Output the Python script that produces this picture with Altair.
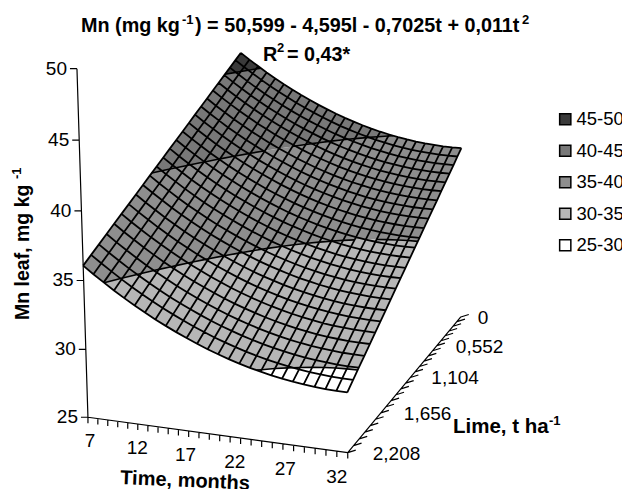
import altair as alt
import numpy as np

# ---- values ----
times = list(range(7, 33))
lime_levels = [0, 0.092, 0.184, 0.276, 0.368, 0.46, 0.552, 0.644, 0.736, 0.828, 0.92, 1.012, 1.104,
               1.196, 1.288, 1.38, 1.472, 1.564, 1.656, 1.748, 1.84, 1.932, 2.024, 2.116, 2.208]
mn_at_lime0 = [46.22, 45.68, 45.17, 44.67, 44.20, 43.75, 43.33, 42.92, 42.54, 42.18, 41.84, 41.52, 41.22,
               40.95, 40.70, 40.47, 40.26, 40.08, 39.91, 39.77, 39.65, 39.55, 39.48, 39.42, 39.39, 39.38]
mn_drop_by_lime = [0, 0.42, 0.85, 1.27, 1.69, 2.11, 2.54, 2.96, 3.38, 3.80, 4.23, 4.65, 5.07,
                   5.50, 5.92, 6.34, 6.76, 7.19, 7.61, 8.03, 8.45, 8.88, 9.30, 9.72, 10.15]
band_labels = ["45-50", "40-45", "35-40", "30-35", "25-30"]
band_low = [45, 40, 35, 30, 25]
band_colors = ["#3a3a3a", "#787878", "#8e8e8e", "#b6b6b6", "#ffffff"]
z_ticks = [25, 30, 35, 40, 45, 50]
time_ticks = [7, 12, 17, 22, 27, 32]
lime_ticks = [0, 0.552, 1.104, 1.656, 2.208]
lime_tick_labels = ["0", "0,552", "1,104", "1,656", "2,208"]

# ---- camera: calibrated on the picture's axis ends and surface corners ----
anchors = [((7, 2.208, 25), (87, 417)), ((32, 2.208, 25), (345, 453)), ((32, 0, 25), (462, 316)),
           ((7, 2.208, 50), (77, 67)), ((7, 2.208, 45), (79, 141)), ((7, 2.208, 35), (83, 282)),
           ((7, 2.208, 36.07), (86, 265)), ((32, 2.208, 29.24), (349, 392)),
           ((32, 0, 39.38), (461, 149)), ((7, 0, 46.22), (240, 53))]


def world(t, l, z):
    return np.array([(t - 7) / 25, l / 2.208, (z - 25) / 25, 1.0])


rows = []
for (t, l, z), (px, py) in anchors:
    w = world(t, l, z)
    rows.append(np.r_[w, np.zeros(4), -px * w])
    rows.append(np.r_[np.zeros(4), w, -py * w])
P = np.linalg.svd(np.array(rows))[2][-1].reshape(3, 4)


def proj(t, l, z):
    h = P @ world(t, l, z)
    return [round(float(h[0] / h[2]), 2), round(float(h[1] / h[2]), 2)]


def clip(poly, level, keep_above):
    out = []
    for i, a in enumerate(poly):
        b = poly[(i + 1) % len(poly)]
        ina = (a[2] >= level) if keep_above else (a[2] <= level)
        inb = (b[2] >= level) if keep_above else (b[2] <= level)
        if ina:
            out.append(a)
        if ina != inb:
            f = (level - a[2]) / (b[2] - a[2])
            out.append(tuple(a[k] + f * (b[k] - a[k]) for k in range(3)))
    return out


def Z(i, j):
    return mn_at_lime0[i] - mn_drop_by_lime[j]


cells, segments = [], []
for i in range(len(times) - 1):
    for j in range(len(lime_levels) - 1):
        quad = [(times[a], lime_levels[b], Z(a, b)) for a, b in
                [(i, j), (i + 1, j), (i + 1, j + 1), (i, j + 1)]]
        for lab, lo in zip(band_labels, band_low):
            poly = clip(clip(quad, lo, True), lo + 5, False)
            if len(poly) >= 3:
                ring = [proj(*p) for p in poly]
                cells.append({"type": "Feature", "properties": {"band": lab},
                              "geometry": {"type": "Polygon", "coordinates": [ring + [ring[0]]]}})
        for lev in band_low[:-1]:
            cross = []
            for k in range(4):
                a, b = quad[k], quad[(k + 1) % 4]
                if (a[2] - lev) * (b[2] - lev) < 0:
                    f = (lev - a[2]) / (b[2] - a[2])
                    cross.append(proj(a[0] + f * (b[0] - a[0]), a[1] + f * (b[1] - a[1]), lev))
            if len(cross) == 2:
                segments.append(cross)

lines = []
for i in range(len(times)):
    lines.append([proj(times[i], lime_levels[j], Z(i, j)) for j in range(len(lime_levels))])
for j in range(len(lime_levels)):
    lines.append([proj(times[i], lime_levels[j], Z(i, j)) for i in range(len(times))])


def line_feature(coords):
    return {"type": "Feature", "properties": {},
            "geometry": {"type": "MultiLineString", "coordinates": coords}}


def off(p, dx, dy):
    return [p[0] + dx, p[1] + dy]


axis_lines = [[proj(7, 2.208, 25), proj(7, 2.208, 50)], [proj(7, 2.208, 25), proj(32, 2.208, 25)],
              [proj(32, 2.208, 25), proj(32, 0, 25)]]
for z in z_ticks:
    p = proj(7, 2.208, z)
    axis_lines.append([p, off(p, -7, 0)])
for t in times:
    p = proj(t, 2.208, 25)
    axis_lines.append([p, off(p, 0, 6)])
for l in lime_levels:
    p = proj(32, l, 25)
    axis_lines.append([p, off(p, 8, -2.5)])

PROJ = dict(type="identity", scale=1, translate=[-8, -8])


def text_layer(items, size, bold=False, align="left", angle=0, baseline="alphabetic"):
    return alt.Chart(alt.Data(values=items)).mark_text(
        font="Liberation Sans", fontSize=size, fontWeight="bold" if bold else "normal",
        align=align, baseline=baseline, angle=angle, color="black"
    ).encode(longitude="x:Q", latitude="y:Q", text="s:N").project(**PROJ)


z_labels = [dict(x=proj(7, 2.208, z)[0] - 10, y=proj(7, 2.208, z)[1], s=str(z)) for z in z_ticks]
t_labels = [dict(x=proj(t, 2.208, 25)[0] + 2 - 13 * (t - 7) / 25, y=proj(t, 2.208, 25)[1] + 24, s=str(t))
            for t in time_ticks]
l_labels = [dict(x=proj(32, l, 25)[0] + 17 + 8 * l / 2.208, y=proj(32, l, 25)[1] + 1, s=s)
            for l, s in zip(lime_ticks, lime_tick_labels)]

surface = alt.Chart(alt.Data(values=cells)).mark_geoshape(strokeWidth=0).encode(
    fill=alt.Fill("properties.band:N",
                  scale=alt.Scale(domain=band_labels, range=band_colors),
                  legend=alt.Legend(title=None, orient="none", legendX=548, legendY=102,
                                    symbolType="square", symbolSize=125, symbolStrokeColor="black",
                                    symbolStrokeWidth=1.5, labelFont="Liberation Sans", labelFontSize=18.5,
                                    labelColor="black", rowPadding=12.5, labelOffset=2))
).project(**PROJ)
grid = alt.Chart(alt.Data(values=[line_feature(lines)])).mark_geoshape(
    filled=False, stroke="black", strokeWidth=1.8).project(**PROJ)
contours = alt.Chart(alt.Data(values=[line_feature(segments)])).mark_geoshape(
    filled=False, stroke="black", strokeWidth=1.6).project(**PROJ)
axes = alt.Chart(alt.Data(values=[line_feature(axis_lines)])).mark_geoshape(
    filled=False, stroke="black", strokeWidth=1.2).project(**PROJ)

chart = alt.layer(
    surface, grid, contours, axes,
    text_layer(z_labels, 19, align="right", baseline="middle"),
    text_layer(t_labels, 19, align="center", baseline="middle"),
    text_layer(l_labels, 19, baseline="middle"),
    text_layer([dict(x=81, y=32, s="Mn (mg kg"), dict(x=195, y=32, s=") = 50,599 - 4,595l - 0,7025t + 0,011t"),
                dict(x=263, y=61, s="R"), dict(x=287, y=61, s="= 0,43*")], 19.8, bold=True),
    text_layer([dict(x=453, y=433, s="Lime, t ha")], 20.5, bold=True),
    text_layer([dict(x=182, y=24, s="-1"), dict(x=522, y=24, s="2"), dict(x=277, y=52, s="2"),
                dict(x=549, y=425, s="-1")], 13, bold=True),
    text_layer([dict(x=120, y=484, s="Time, months")], 20, bold=True, angle=2.5),
    text_layer([dict(x=29, y=320, s="Mn leaf, mg kg")], 19.5, bold=True, angle=270),
    text_layer([dict(x=21, y=179, s="-1")], 13, bold=True, angle=270),
).properties(width=614, height=481, padding=0, autosize=alt.AutoSizeParams(type="none")).configure_view(stroke=None)

chart.save("out.html", embed_options={"renderer": "svg", "actions": False})
